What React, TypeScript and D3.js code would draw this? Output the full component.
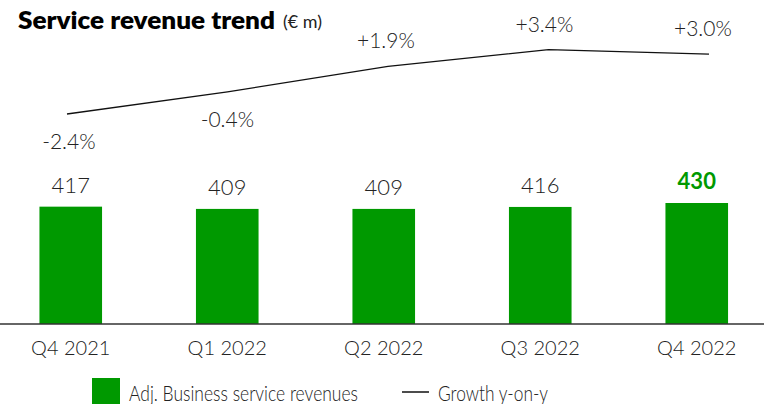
import React from "react";
import * as d3 from "d3";

const categories = ["Q4 2021", "Q1 2022", "Q2 2022", "Q3 2022", "Q4 2022"];
const revenues = [417, 409, 409, 416, 430];
const growth = [-2.4, -0.4, 1.9, 3.4, 3.0];
const growthLabels = ["-2.4%", "-0.4%", "+1.9%", "+3.4%", "+3.0%"];

const W = 764;
const H = 404;
const FONT = "Lato, 'Open Sans', sans-serif";
const GREEN = "#009900";

export default function App() {
  const xBar = d3.scaleBand<string>().domain(categories).range([-7.5, 775]).paddingInner(0.6).paddingOuter(0.3);
  const xLine = d3.scalePoint<string>().domain(categories).range([67, 709]);
  const y = d3.scaleLinear().domain([0, 430]).range([324, 203]);
  const yG = d3.scaleLinear().domain([-2.4, 3.4]).range([114, 49.7]);

  const line = d3
    .line<number>()
    .x((_, i) => xLine(categories[i])!)
    .y((d) => yG(d));

  const bw = xBar.bandwidth();

  return (
    <svg
      width={W}
      height={H}
      style={{ position: "absolute", left: 0, top: 0, background: "#fff" }}
      fontFamily={FONT}
    >
      <text x={18} y={29} fontSize={24} fontWeight={800} fill="#000" textLength={257} lengthAdjust="spacingAndGlyphs">
        Service revenue trend
      </text>
      <text x={283} y={28} fontSize={17} fontWeight={400} fill="#222" textLength={39} lengthAdjust="spacingAndGlyphs">
        (€ m)
      </text>

      {revenues.map((v, i) => {
        const c = categories[i];
        const x = xBar(c)!;
        const last = i === revenues.length - 1;
        return (
          <g key={c}>
            <rect x={x} y={y(v)} width={bw} height={y(0) - y(v)} fill={GREEN} />
            <text
              x={x + bw / 2}
              y={y(v) - 14}
              textAnchor="middle"
              fontSize={22}
              fontWeight={last ? 700 : 300}
              fill={last ? GREEN : "#222"}
            >
              {v}
            </text>
            <text x={x + bw / 2} y={355} textAnchor="middle" fontSize={20} fontWeight={300} fill="#222">
              {c}
            </text>
          </g>
        );
      })}

      <line x1={0} x2={W} y1={324} y2={324} stroke="#333" strokeWidth={1.5} />

      <path d={line(growth) ?? ""} fill="none" stroke="#111" strokeWidth={1.3} />

      {growth.map((g, i) => {
        const c = categories[i];
        const lx = (xLine(c)! + xBar(c)! + bw / 2) / 2;
        const ly = g < 0 ? yG(g) + 35 : yG(g) - 18;
        return (
          <text key={c} x={lx} y={ly} textAnchor="middle" fontSize={21} fontWeight={300} fill="#222">
            {growthLabels[i]}
          </text>
        );
      })}

      <rect x={92} y={378} width={28} height={28} fill={GREEN} />
      <text x={129} y={401} fontSize={21} fontWeight={300} fill="#222" textLength={229} lengthAdjust="spacingAndGlyphs">
        Adj. Business service revenues
      </text>
      <line x1={402} x2={429} y1={392} y2={392} stroke="#111" strokeWidth={1.5} />
      <text x={438} y={401} fontSize={21} fontWeight={300} fill="#222" textLength={110} lengthAdjust="spacingAndGlyphs">
        Growth y-on-y
      </text>
    </svg>
  );
}
